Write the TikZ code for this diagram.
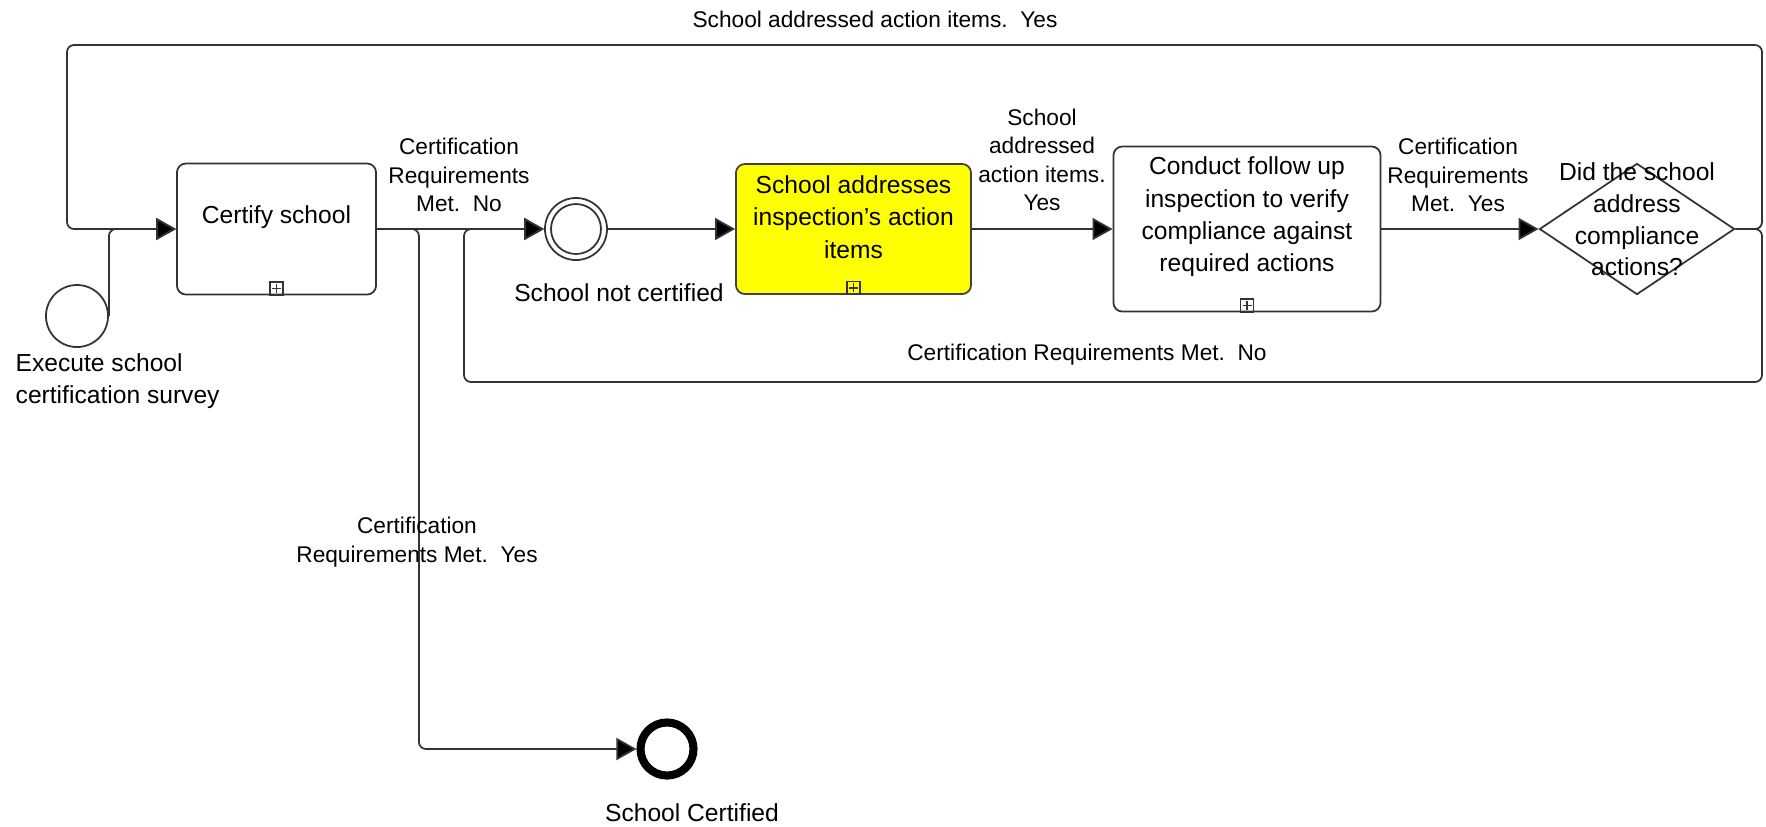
\documentclass[tikz,border=0pt]{standalone}
\usepackage{fontspec}
\setmainfont{Liberation Sans}
\usetikzlibrary{arrows.meta,shapes.geometric}
\definecolor{lineGray}{HTML}{333333}
\definecolor{taskYellow}{HTML}{FFFF00}
\begin{document}
\begin{tikzpicture}[x=0.01cm, y=-0.01cm,
  font=\fontsize{7pt}{8.9pt}\selectfont,
  every node/.style={align=center, inner sep=0pt},
  task/.style={draw=lineGray, line width=0.5pt, rectangle, rounded corners=0.09cm},
  tasktext/.style={align=center, yshift=0.12cm, font=\fontsize{7pt}{9.2pt}\selectfont},
  event/.style={draw=lineGray, line width=0.5pt, circle, minimum size=0.62cm},
  flowlabel/.style={font=\fontsize{6.45pt}{8.1pt}\selectfont},
  flow/.style={draw=lineGray, line width=0.5pt, rounded corners=0.07cm, -{Triangle[length=0.2cm, width=0.22cm, fill=black]}},
  subproc/.pic={\draw[draw=lineGray, line width=0.4pt] (-6.5,-6.5) rectangle (6.5,6.5) (-4.5,0) -- (4.5,0) (0,-4.5) -- (0,4.5);}
]
\useasboundingbox (0,0) rectangle (1766,826);

% Start event
\node[event] (start) at (77,316) {};
\node[anchor=west, align=left] (startText) at (15,381) {Execute school\\certification survey};

% Tasks
\node[task, minimum width=1.99cm, minimum height=1.31cm,
  label={[tasktext]center:Certify school}] (certify) at (276.5,229) {};
\pic at ([yshift=0.07cm]certify.south) {subproc};

\node[task, fill=taskYellow, draw=black!75, minimum width=2.35cm, minimum height=1.30cm,
  label={[tasktext]center:{School addresses\\inspection's action\\items}}] (fix) at (853.5,229) {};
\pic at ([yshift=0.07cm]fix.south) {subproc};

\node[task, minimum width=2.67cm, minimum height=1.65cm,
  label={[tasktext]center:{Conduct follow up\\inspection to verify\\compliance against\\required actions}}] (followup) at (1247,229) {};
\pic at ([yshift=0.07cm]followup.south) {subproc};

% Gateway
\node[draw=lineGray, line width=0.5pt, diamond, minimum width=1.95cm, minimum height=1.31cm] (gate) at (1637,229) {};
\node[font=\fontsize{7pt}{9pt}\selectfont] (gateText) at (1637,219.5) {Did the school\\address\\compliance\\actions?};

% Intermediate and end events
\node[event] (notcert) at (576,229) {};
\draw[draw=lineGray, line width=0.5pt] (notcert.center) circle[radius=25];
\node (notcertText) at (619,293) {School not certified};

\node[event, draw=black, line width=2.3pt, minimum size=0.53cm] (certified) at (667,749) {};
\node (certifiedText) at (692,813) {School Certified};

% Loop corners
\coordinate (topLeft) at (67,45);
\coordinate (topRight) at (1762,45);
\coordinate (botLeft) at (464,382);
\coordinate (botRight) at (1762,382);

% Sequence flows
\draw[flow] (start.east) |- (certify.west);
\draw[flow] (certify.east) -- (notcert.west);
\draw[flow] (certify.east) -- ++(42,0) |- (certified.west);
\draw[flow] (notcert.east) -- (fix.west);
\draw[flow] (fix.east) -- (followup.west);
\draw[flow] (followup.east) -- (gate.west);
\draw[flow] (gate.east) -| (topRight) -- (topLeft) |- (certify.west);
\draw[flow] (gate.east) -| (botRight) -- (botLeft) |- (notcert.west);

% Flow labels
\node[flowlabel] (lblTop) at (875,19) {School addressed action items.\ \ Yes};
\node[flowlabel] (lblNo) at (459,175) {Certification\\Requirements\\Met.\ \ No};
\node[flowlabel] (lblYes) at (417,542) {Certification\\Requirements Met.\ \ Yes};
\node[flowlabel] (lblAddressed) at (1042,160) {School\\addressed\\action items.\\Yes};
\node[flowlabel] (lblMet) at (1458,175) {Certification\\Requirements\\Met.\ \ Yes};
\node[flowlabel] (lblBottom) at (1087,355) {Certification Requirements Met.\ \ No};
\end{tikzpicture}
\end{document}
